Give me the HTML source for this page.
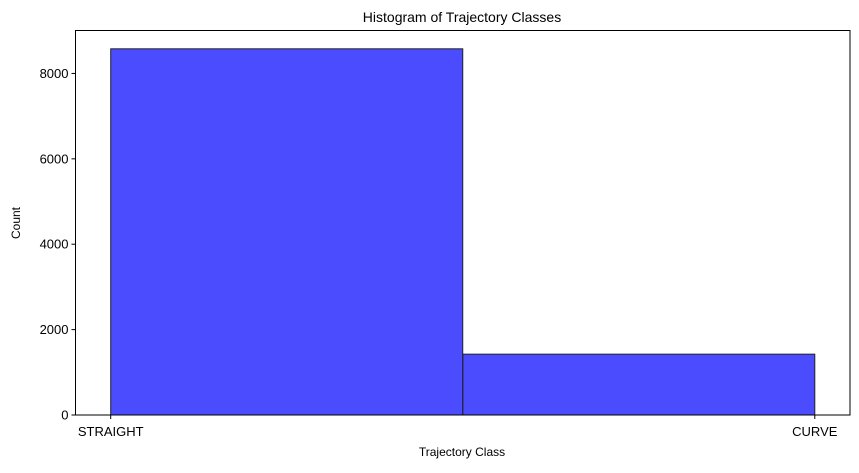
<!DOCTYPE html>
<html><head><meta charset="utf-8"><style>
body{margin:0;background:#fff;}
svg text{font-family:"Liberation Sans","DejaVu Sans",sans-serif;fill:#000;}
</style></head><body>
<svg id="chart" width="859" height="468" xmlns="http://www.w3.org/2000/svg">
<text x="462" y="22" font-size="14" text-anchor="middle">Histogram of Trajectory Classes</text>
<g id="bars"></g>
<g id="yticks"></g>
<g id="xticks"></g>
<rect x="75.5" y="30.5" width="774.5" height="384.5" fill="none" stroke="#000" stroke-width="1"/>
<text x="462" y="456" font-size="12" text-anchor="middle">Trajectory Class</text>
<text transform="translate(20,223) rotate(-90)" font-size="12" text-anchor="middle">Count</text>
</svg>
<script>
const categories = ["STRAIGHT", "CURVE"];
const counts = [8577, 1425];
const yTicks = [0, 2000, 4000, 6000, 8000];

const L = 75.5, R = 850, T = 30.5, B = 415;
const yMax = Math.max(...counts) * 1.05;
const n = categories.length;
const xMin = -0.05, xMax = (n - 1) + 0.05;
const xs = v => L + (v - xMin) / (xMax - xMin) * (R - L);
const ys = v => B - v / yMax * (B - T);
const NS = "http://www.w3.org/2000/svg";
const bw = (n - 1) / n;
const bars = document.getElementById('bars');
counts.forEach((c, i) => {
  const r = document.createElementNS(NS, 'rect');
  const x0 = xs(i * bw), x1 = xs((i + 1) * bw);
  r.setAttribute('x', x0); r.setAttribute('width', x1 - x0);
  r.setAttribute('y', ys(c)); r.setAttribute('height', B - ys(c));
  r.setAttribute('fill', 'rgba(0,0,255,0.7)');
  r.setAttribute('stroke', '#222'); r.setAttribute('stroke-width', '1');
  
  
  bars.appendChild(r);
});
const yt = document.getElementById('yticks');
yTicks.forEach(v => {
  const l = document.createElementNS(NS, 'line');
  l.setAttribute('x1', L - 4); l.setAttribute('x2', L);
  l.setAttribute('y1', ys(v)); l.setAttribute('y2', ys(v));
  l.setAttribute('stroke', '#000');
  
  
  yt.appendChild(l);
  const t = document.createElementNS(NS, 'text');
  t.setAttribute('x', L - 7); t.setAttribute('y', ys(v) + 4.5);
  t.setAttribute('font-size', '13'); t.setAttribute('text-anchor', 'end');
  t.textContent = v;
  
  
  yt.appendChild(t);
});
const xt = document.getElementById('xticks');
categories.forEach((c, i) => {
  const x = xs(i);
  const l = document.createElementNS(NS, 'line');
  l.setAttribute('x1', x); l.setAttribute('x2', x);
  l.setAttribute('y1', B); l.setAttribute('y2', B + 4);
  l.setAttribute('stroke', '#000');
  
  
  xt.appendChild(l);
  const t = document.createElementNS(NS, 'text');
  t.setAttribute('x', x); t.setAttribute('y', B + 21);
  t.setAttribute('font-size', '13'); t.setAttribute('text-anchor', 'middle');
  t.textContent = c;
  
  
  xt.appendChild(t);
});
</script>
</body></html>
